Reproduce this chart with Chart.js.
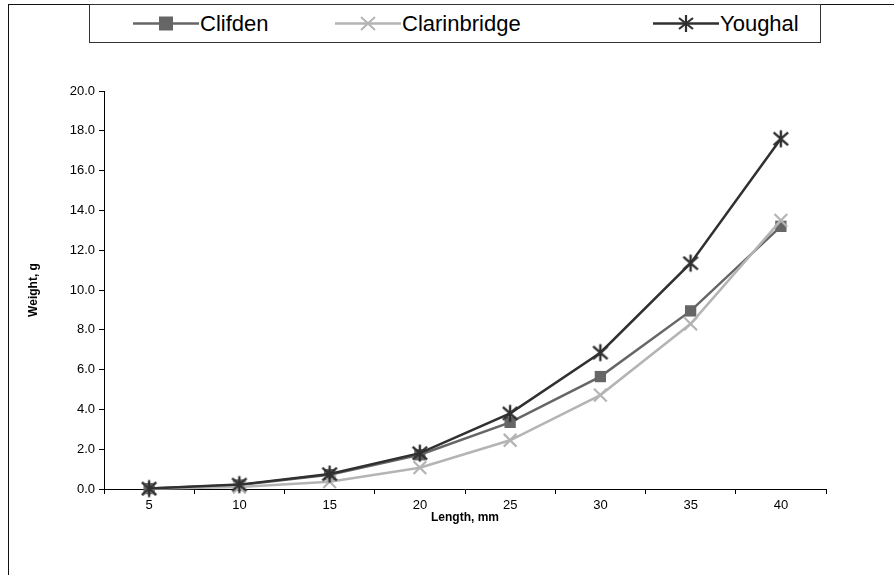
<!DOCTYPE html>
<html>
<head>
<meta charset="utf-8">
<script src="https://cdn.jsdelivr.net/npm/chart.js@4.4.0/dist/chart.umd.min.js"></script>
<style>
    html, body { margin: 0; padding: 0; background: #fff; }
    body { width: 894px; height: 575px; position: relative; overflow: hidden; font-family: "Liberation Sans", Arial, sans-serif; }
    #frame { position: absolute; left: 8px; top: 4px; width: 1000px; height: 700px; border-left: 1.5px solid #111; border-top: 1.5px solid #111; }
    #legend { position: absolute; left: 89px; top: 4px; width: 730px; height: 37px; border: 1.5px solid #333; background: #fff; }
    .item { position: absolute; top: 0; height: 37px; display: flex; align-items: center; font-size: 22px; color: #000; }
    .item svg { margin-right: 1px; }
    #chart { position: absolute; left: 0; top: 0; }
</style>
</head>
<body>
<div id="frame"></div>
<canvas id="chart" width="894" height="575"></canvas>
<div id="legend"></div>

<script>
// ===== Data =====
const lengths = ["5", "10", "15", "20", "25", "30", "35", "40"];
const clifden = [0.02, 0.2, 0.72, 1.72, 3.35, 5.65, 8.95, 13.2];
const clarinbridge = [0.01, 0.1, 0.37, 1.07, 2.45, 4.72, 8.3, 13.5];
const youghal = [0.02, 0.22, 0.75, 1.8, 3.8, 6.85, 11.35, 17.6];

const colClifden = "#666666";
const colClarin = "#b4b4b4";
const colYoughal = "#303030";

// ===== Asterisk marker (6 arms) =====
function makeAsterisk(size, color) {
    const c = document.createElement("canvas");
    c.width = size; c.height = size;
    const g = c.getContext("2d");
    const r = size / 2 - 1.5, m = size / 2;
    g.strokeStyle = color;
    g.lineWidth = 2.4;
    g.beginPath();
    g.moveTo(m, m - r); g.lineTo(m, m + r);
    g.moveTo(m - r * 0.85, m - r * 0.75); g.lineTo(m + r * 0.85, m + r * 0.75);
    g.moveTo(m - r * 0.85, m + r * 0.75); g.lineTo(m + r * 0.85, m - r * 0.75);
    g.stroke();
    return c;
}
const starImg = makeAsterisk(20, colYoughal);

// ===== Legend =====
const legendItems = [
    { label: "Clifden", color: colClifden, marker: "square", left: 43 },
    { label: "Clarinbridge", color: colClarin, marker: "x", left: 245 },
    { label: "Youghal", color: colYoughal, marker: "star", left: 563 }
];

function markerSvg(type, color) {
    let m = "";
    if (type === "square") m = `<rect x="26" y="4.5" width="14" height="14" fill="${color}"/>`;
    if (type === "x") m = `<path d="M26 5 L40 18 M26 18 L40 5" stroke="${color}" stroke-width="2"/>`;
    if (type === "star") m = `<path d="M33 3 L33 20 M26 6 L40 17 M26 17 L40 6" stroke="${color}" stroke-width="2.2"/>`;
    return `<svg width="66" height="23"><line x1="0" y1="11.5" x2="66" y2="11.5" stroke="${color}" stroke-width="2.5"/>${m}</svg>`;
}

document.getElementById("legend").innerHTML = legendItems.map(it => `
    <div class="item" style="left:${it.left}px">${markerSvg(it.marker, it.color)}<span>${it.label}</span></div>
`).join('');

// ===== Chart =====
const ctx = document.getElementById("chart").getContext("2d");
new Chart(ctx, {
    type: "line",
    data: {
        labels: lengths,
        datasets: [
            {
                label: "Clifden", data: clifden, order: 2, clip: false,
                borderColor: colClifden, backgroundColor: colClifden, borderWidth: 2.5,
                pointStyle: "rect", pointRadius: 8, pointBorderWidth: 0, tension: 0
            },
            {
                label: "Clarinbridge", data: clarinbridge, order: 1, clip: false,
                borderColor: colClarin, backgroundColor: colClarin, borderWidth: 2.5,
                pointStyle: "crossRot", pointRadius: 9, pointBorderWidth: 2.2, tension: 0
            },
            {
                label: "Youghal", data: youghal, order: 0, clip: false,
                borderColor: colYoughal, backgroundColor: colYoughal, borderWidth: 2.5,
                pointStyle: starImg, pointRadius: 10, tension: 0
            }
        ]
    },
    options: {
        responsive: false,
        animation: false,
        layout: { padding: { left: 0, top: 91, right: 68, bottom: 0 } },
        plugins: { legend: { display: false }, tooltip: { enabled: false } },
        scales: {
            x: {
                offset: true,
                grid: { offset: true, drawOnChartArea: false, drawTicks: true, tickLength: 5, color: "#000" },
                border: { color: "#000", width: 1 },
                ticks: { color: "#000", font: { family: "Liberation Sans", size: 13 }, padding: 4 },
                title: { display: true, text: "Length, mm", color: "#000", font: { family: "Liberation Sans", size: 12, weight: "bold" }, padding: { top: 0, bottom: 50 } },
                afterFit: (scale) => { scale.height = 86; }
            },
            y: {
                min: 0, max: 20,
                grid: { drawOnChartArea: false, drawTicks: true, tickLength: 5, color: "#000" },
                border: { color: "#000", width: 1 },
                ticks: { stepSize: 2, color: "#000", font: { family: "Liberation Sans", size: 13 }, padding: 4, callback: (v) => Number(v).toFixed(1) },
                title: { display: true, text: "Weight, g", color: "#000", font: { family: "Liberation Sans", size: 12, weight: "bold" }, padding: { top: 26, bottom: 0 } },
                afterFit: (scale) => { scale.width = 104; }
            }
        }
    }
});
</script>
</body>
</html>
